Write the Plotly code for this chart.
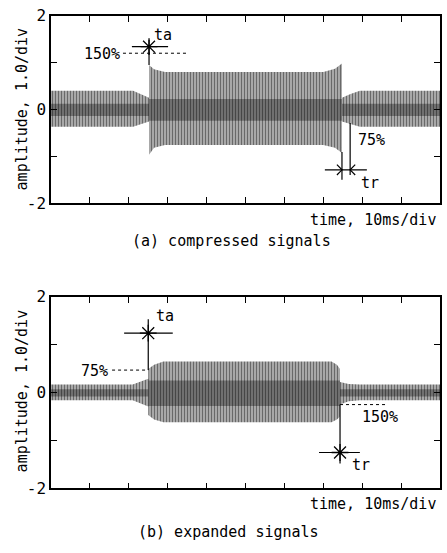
import plotly.graph_objects as go

# ---------------- data ----------------
# (a) compressed signals: envelope breakpoints (time in ms, amplitude)
a_t = [0, 21.1, 25.2, 25.2, 26.5, 29.3, 70.0, 73.0, 74.8, 74.8, 77.0, 79.4, 100]
a_upper = [0.40, 0.40, 0.25, 0.95, 0.86, 0.80, 0.80, 0.87, 0.98, 0.25, 0.33, 0.40, 0.40]
a_lower = [-0.37, -0.37, -0.26, -0.97, -0.82, -0.76, -0.76, -0.82, -0.93, -0.26, -0.32, -0.37, -0.37]
# darker noisy core of (a)
a_core_t = [0, 25.2, 25.2, 74.8, 74.8, 100]
a_core_up = [0.12, 0.12, 0.22, 0.22, 0.12, 0.12]
a_core_lo = [-0.14, -0.14, -0.24, -0.24, -0.14, -0.14]

# (b) expanded signals
b_t = [0, 21.0, 25.0, 25.0, 26.5, 28.9, 72.1, 73.5, 74.3, 74.3, 76.5, 79.4, 100]
b_upper = [0.17, 0.17, 0.29, 0.49, 0.58, 0.65, 0.65, 0.58, 0.49, 0.22, 0.18, 0.17, 0.17]
b_lower = [-0.16, -0.16, -0.29, -0.47, -0.56, -0.62, -0.62, -0.56, -0.50, -0.25, -0.18, -0.16, -0.16]
b_core_t = [0, 25.0, 25.0, 74.3, 74.3, 100]
b_core_up = [0.07, 0.07, 0.25, 0.25, 0.07, 0.07]
b_core_lo = [-0.08, -0.08, -0.28, -0.28, -0.08, -0.08]

# annotation values
a_ta = dict(t=25.2, y=1.34, x0=20.8, x1=30.1, vtop=1.48, level=1.20, d0=18.5, d1=35.2)
a_tr = dict(t1=74.8, t2=76.9, y=-1.29, x0=70.4, x1=81.2, v1top=-0.91, v1bot=-1.50,
            v2top=-0.29, v2bot=-1.40)
b_ta = dict(t=25.0, y=1.24, x0=18.8, x1=31.3, vtop=1.53, vbot=0.47, d0=15.7)
b_tr = dict(t=74.3, y=-1.25, x0=68.9, x1=79.4, vtop=-0.25, vbot=-1.48, d1=86.3)

y_tickvals = [-2, -1, 0, 1, 2]
y_ticktext = ["-2", "", "0", "", "2"]
x_tickvals = [0, 10, 20, 30, 40, 50, 60, 70, 80, 90, 100]

FONT = "DejaVu Sans Mono"
W, H = 447, 553

fig = go.Figure()


def envelope(t, up, lo, xa, ya, fg, bg, solidity, size):
    fig.add_trace(go.Scatter(
        x=list(t) + list(t)[::-1], y=list(up) + list(lo)[::-1],
        fill="toself", mode="lines", line=dict(width=0, color=fg),
        fillcolor=bg,
        fillpattern=dict(shape="|", size=size, solidity=solidity, fgcolor=fg, bgcolor=bg),
        xaxis=xa, yaxis=ya, hoverinfo="skip", showlegend=False))


def seg(xs, ys, xa, ya, dash="solid", width=1.2):
    fig.add_trace(go.Scatter(x=xs, y=ys, mode="lines",
                             line=dict(color="black", width=width, dash=dash),
                             xaxis=xa, yaxis=ya, hoverinfo="skip", showlegend=False))


def star(x, y, xa, ya):
    fig.add_trace(go.Scatter(x=[x], y=[y], mode="markers",
                             marker=dict(symbol="asterisk-open", size=14, color="black",
                                         line=dict(color="black", width=1.3)),
                             xaxis=xa, yaxis=ya, hoverinfo="skip", showlegend=False))


SIG_FG, SIG_BG = "#000000", "#d2d2d2"
CORE_FG, CORE_BG = "#000000", "#8c8c8c"

# ---- panel (a)
envelope(a_t, a_upper, a_lower, "x", "y", SIG_FG, SIG_BG, 0.6, 3)
envelope(a_core_t, a_core_up, a_core_lo, "x", "y", CORE_FG, CORE_BG, 0.6, 3)
seg([a_ta["x0"], a_ta["x1"]], [a_ta["y"], a_ta["y"]], "x", "y")
seg([a_ta["t"], a_ta["t"]], [a_ta["vtop"], a_upper[3]], "x", "y")
seg([a_ta["d0"], a_ta["d1"]], [a_ta["level"], a_ta["level"]], "x", "y", dash="3px,3px", width=1)
star(a_ta["t"], a_ta["y"], "x", "y")
seg([a_tr["x0"], a_tr["x1"]], [a_tr["y"], a_tr["y"]], "x", "y")
seg([a_tr["t1"], a_tr["t1"]], [a_tr["v1top"], a_tr["v1bot"]], "x", "y")
seg([a_tr["t2"], a_tr["t2"]], [a_tr["v2top"], a_tr["v2bot"]], "x", "y")
dx, dy = 1.3, 0.11
seg([a_tr["t1"] - dx, a_tr["t1"], a_tr["t1"] - dx], [a_tr["y"] + dy, a_tr["y"], a_tr["y"] - dy], "x", "y")
seg([a_tr["t2"] + dx, a_tr["t2"], a_tr["t2"] + dx], [a_tr["y"] + dy, a_tr["y"], a_tr["y"] - dy], "x", "y")

# ---- panel (b)
envelope(b_t, b_upper, b_lower, "x2", "y2", SIG_FG, SIG_BG, 0.6, 3)
envelope(b_core_t, b_core_up, b_core_lo, "x2", "y2", CORE_FG, CORE_BG, 0.6, 3)
seg([b_ta["x0"], b_ta["x1"]], [b_ta["y"], b_ta["y"]], "x2", "y2")
seg([b_ta["t"], b_ta["t"]], [b_ta["vtop"], b_ta["vbot"]], "x2", "y2")
seg([b_ta["d0"], b_ta["t"]], [b_ta["vbot"], b_ta["vbot"]], "x2", "y2", dash="3px,3px", width=1)
star(b_ta["t"], b_ta["y"], "x2", "y2")
seg([b_tr["x0"], b_tr["x1"]], [b_tr["y"], b_tr["y"]], "x2", "y2")
seg([b_tr["t"], b_tr["t"]], [b_tr["vtop"], b_tr["vbot"]], "x2", "y2")
seg([b_tr["t"], b_tr["d1"]], [b_tr["vtop"], b_tr["vtop"]], "x2", "y2", dash="3px,3px", width=1)
star(b_tr["t"], b_tr["y"], "x2", "y2")

# ---- axes
xdom = [51 / W, 440 / W]
ya_dom = [1 - 201 / H, 1 - 7 / H]
yb_dom = [1 - 496.5 / H, 1 - 298 / H]

xcommon = dict(range=[0, 100], tickvals=x_tickvals, ticks="inside", ticklen=6, tickwidth=1.2,
               tickcolor="black", showticklabels=False, showline=True, linecolor="black",
               linewidth=1.5, mirror="ticks", showgrid=False, zeroline=False, domain=xdom,
               fixedrange=True)
ycommon = dict(range=[-2, 2], tickvals=y_tickvals, ticktext=y_ticktext, ticks="inside",
               ticklen=6, tickwidth=1.2, tickcolor="black", showline=True, linecolor="black",
               linewidth=1.5, mirror="ticks", showgrid=False, zeroline=False,
               tickfont=dict(family=FONT, size=16, color="black"), fixedrange=True)

fig.update_layout(
    width=W, height=H, margin=dict(l=0, r=0, t=0, b=0),
    paper_bgcolor="white", plot_bgcolor="white",
    font=dict(family=FONT, size=15, color="black"),
    xaxis=dict(**xcommon, anchor="y"),
    yaxis=dict(**ycommon, domain=ya_dom, anchor="x"),
    xaxis2=dict(**xcommon, anchor="y2"),
    yaxis2=dict(**ycommon, domain=yb_dom, anchor="x2"),
)

ann = []
def txt(text, x, y, xref="paper", yref="paper", xanchor="center", yanchor="middle", angle=0, size=15):
    ann.append(dict(text=text, x=x, y=y, xref=xref, yref=yref, xanchor=xanchor,
                    yanchor=yanchor, textangle=angle, showarrow=False,
                    font=dict(family=FONT, size=size, color="black")))

# panel (a) texts
txt("ta", 28.9, 1.59, "x", "y")
txt("150%", 18.3, 1.18, "x", "y", xanchor="right")
txt("75%", 82.4, -0.66, "x", "y")
txt("tr", 82.1, -1.57, "x", "y")
txt("amplitude, 1.0/div", 22 / W, 1 - 104 / H, angle=-90)
txt("time, 10ms/div", 438 / W, 1 - 218 / H, xanchor="right")
txt("(a) compressed signals", 231 / W, 1 - 240 / H)
# panel (b) texts
txt("ta", 29.3, 1.60, "x2", "y2")
txt("75%", 15.2, 0.45, "x2", "y2", xanchor="right")
txt("150%", 84.6, -0.51, "x2", "y2")
txt("tr", 79.6, -1.52, "x2", "y2")
txt("amplitude, 1.0/div", 22 / W, 1 - 396 / H, angle=-90)
txt("time, 10ms/div", 438 / W, 1 - 513 / H, xanchor="right")
txt("(b) expanded signals", 229 / W, 1 - 542 / H)

fig.update_layout(annotations=ann)
fig.write_html("out.html", config={"displayModeBar": False},
               post_script="document.body.style.margin='0';document.body.style.overflow='hidden';document.documentElement.style.overflow='hidden';")
